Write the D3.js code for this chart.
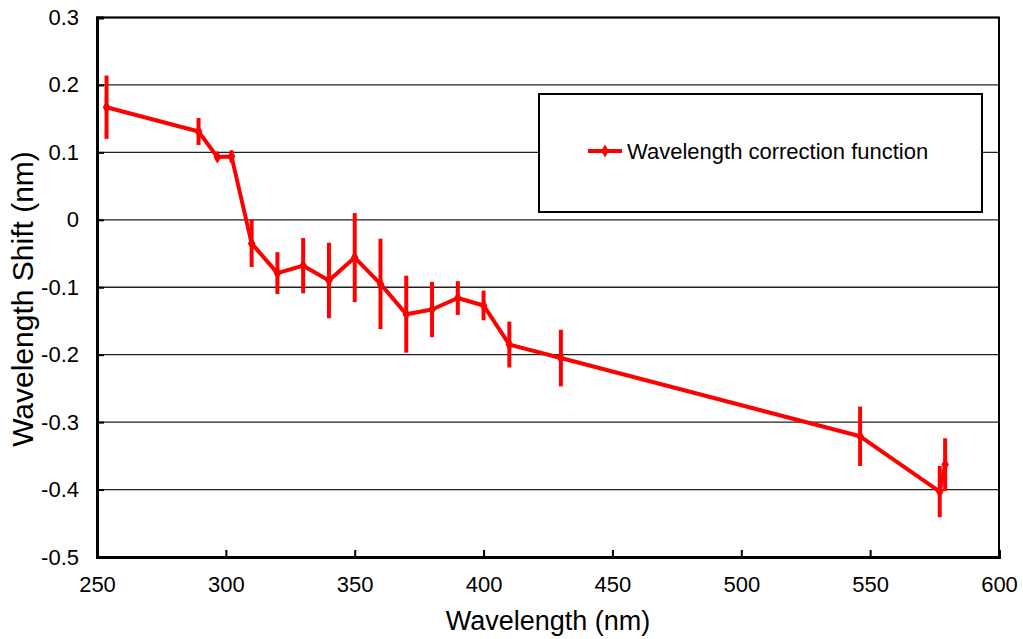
<!DOCTYPE html>
<html>
<head>
<meta charset="utf-8">
<script src="https://cdn.jsdelivr.net/npm/d3@7"></script>
<style>
  html, body { margin: 0; padding: 0; background: #fff; }
  svg { display: block; font-family: "Liberation Sans", Arial, sans-serif; }
</style>
</head>
<body>
<svg id="chart" width="1023" height="639"></svg>
<script>
// ---- data ----
const wavelengths = [253.7, 289.4, 296.7, 302.2, 310, 320, 330, 340, 350, 360, 370, 380, 390, 400, 410, 430, 546.1, 577.0, 579.1];
const shifts = [0.167, 0.131, 0.093, 0.094, -0.035, -0.079, -0.068, -0.090, -0.056, -0.095, -0.140, -0.133, -0.116, -0.127, -0.185, -0.205, -0.321, -0.403, -0.363];
const errors = [0.047, 0.020, 0.005, 0.009, 0.035, 0.031, 0.041, 0.056, 0.066, 0.067, 0.057, 0.041, 0.025, 0.022, 0.034, 0.042, 0.044, 0.038, 0.039];
const xTicks = [250, 300, 350, 400, 450, 500, 550, 600];
const yTicks = [-0.5, -0.4, -0.3, -0.2, -0.1, 0, 0.1, 0.2, 0.3];
const seriesName = "Wavelength correction function";
const xTitle = "Wavelength (nm)";
const yTitle = "Wavelength Shift (nm)";

(function () {
const data = wavelengths.map((w, i) => ({ x: w, y: shifts[i], e: errors[i] }));

const svg = d3.select("#chart");
const pL = 97, pR = 999, pT = 17.5, pB = 557;
const red = "#ff0000";

const x = d3.scaleLinear().domain([250, 600]).range([pL, pR]);
const y = d3.scaleLinear().domain([-0.5, 0.3]).range([pB, pT]);

// gridlines
svg.append("g").selectAll("line").data(yTicks).join("line")
  .attr("x1", pL).attr("x2", pR)
  .attr("y1", d => y(d)).attr("y2", d => y(d))
  .attr("stroke", "#222").attr("stroke-width", 1.3);

// frame (top/right)
svg.append("rect").attr("x", pL).attr("y", pT)
  .attr("width", pR - pL).attr("height", pB - pT)
  .attr("fill", "none").attr("stroke", "#000").attr("stroke-width", 2);

// axes
const fmtY = d => d === 0 ? "0" : d.toFixed(1);
const yAxis = svg.append("g").attr("transform", `translate(${pL},0)`)
  .call(d3.axisLeft(y).tickValues(yTicks).tickFormat(fmtY).tickSize(-7).tickPadding(18));
const xAxis = svg.append("g").attr("transform", `translate(0,${pB})`)
  .call(d3.axisBottom(x).tickValues(xTicks).tickFormat(d3.format("d")).tickSize(-7).tickPadding(19));
[yAxis, xAxis].forEach(g => {
  g.select(".domain").attr("stroke", "#000").attr("stroke-width", 3);
  g.selectAll(".tick line").attr("stroke", "#000").attr("stroke-width", 2);
  g.selectAll(".tick text").attr("font-size", 22).attr("fill", "#000")
    .attr("font-family", '"Liberation Sans", Arial, sans-serif');
});

// error bars
svg.append("g").selectAll("line").data(data).join("line")
  .attr("x1", d => x(d.x)).attr("x2", d => x(d.x))
  .attr("y1", d => y(d.y + d.e)).attr("y2", d => y(d.y - d.e))
  .attr("stroke", red).attr("stroke-width", 4);

// line
svg.append("path").datum(data)
  .attr("d", d3.line().x(d => x(d.x)).y(d => y(d.y)))
  .attr("fill", "none").attr("stroke", red).attr("stroke-width", 4)
  .attr("stroke-linejoin", "round");

// markers
const diamond = d3.symbol().type(d3.symbolDiamond).size(50);
svg.append("g").selectAll("path").data(data).join("path")
  .attr("transform", d => `translate(${x(d.x)},${y(d.y)})`)
  .attr("d", diamond).attr("fill", red);

// legend
const lg = svg.append("g");
lg.append("rect").attr("x", 539).attr("y", 94).attr("width", 443).attr("height", 118)
  .attr("fill", "#fff").attr("stroke", "#000").attr("stroke-width", 2);
lg.append("line").attr("x1", 588).attr("x2", 622).attr("y1", 151).attr("y2", 151)
  .attr("stroke", red).attr("stroke-width", 4);
lg.append("path").attr("transform", "translate(605,151)").attr("d", diamond).attr("fill", red);
lg.append("text").attr("x", 627).attr("y", 159).attr("font-size", 22).attr("fill", "#000")
  .text(seriesName);

// axis titles
svg.append("text").attr("x", (pL + pR) / 2).attr("y", 630)
  .attr("text-anchor", "middle").attr("font-size", 27).attr("fill", "#000").text(xTitle);
svg.append("text").attr("transform", `translate(33,299) rotate(-90)`)
  .attr("text-anchor", "middle").attr("font-size", 30).attr("fill", "#000").text(yTitle);
})();
</script>
</body>
</html>
